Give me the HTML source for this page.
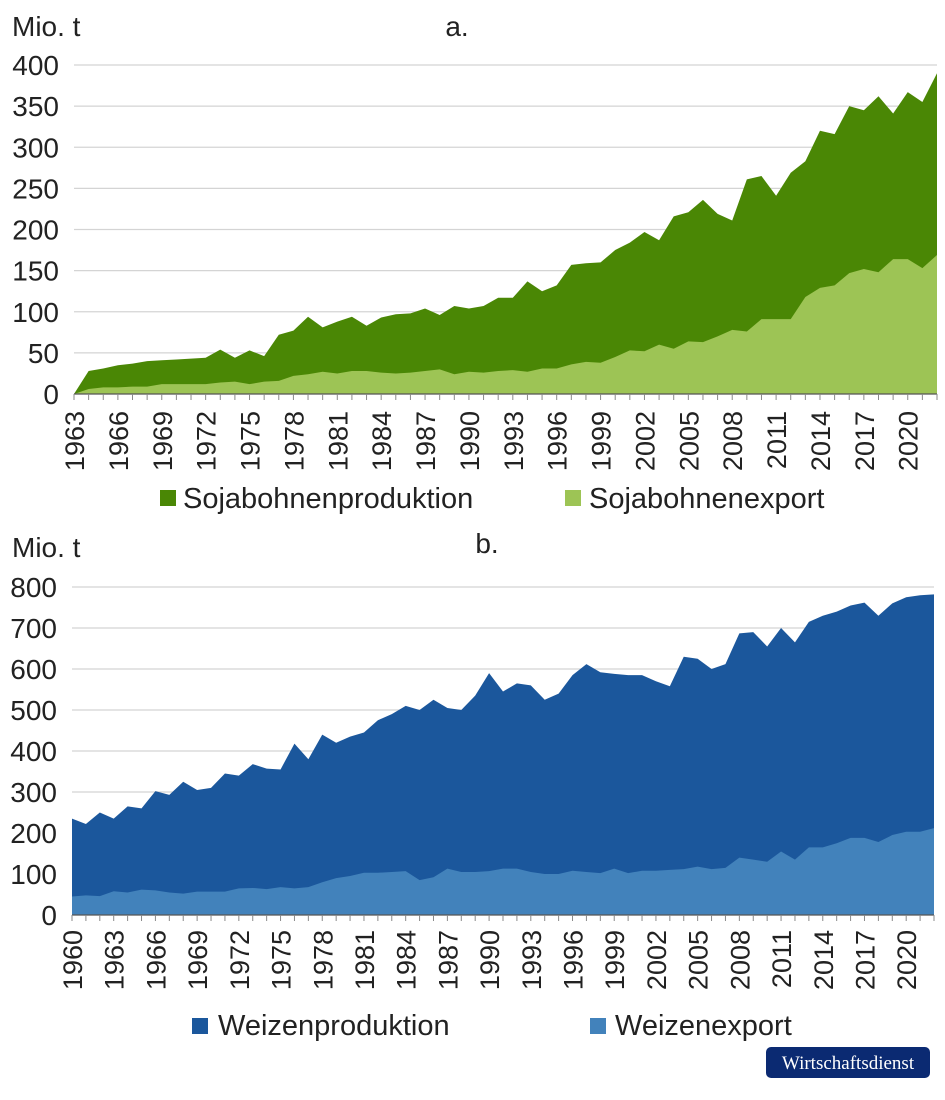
<!DOCTYPE html>
<html><head><meta charset="utf-8"><style>
body{margin:0;background:#fff;}
svg{display:block;font-family:"Liberation Sans",Arial,sans-serif;}
</style></head><body>
<svg id="s" width="945" height="1100" xmlns="http://www.w3.org/2000/svg">
<rect width="945" height="1100" fill="#fff"/>
</svg>
<script>
const s=document.getElementById('s');
let h='';
function chart(o){
  const {x0,x1,y0,yTop,max,step,start,n,series,cols,lo}=o;
  const dx=(x1-x0)/(n-1), sc=(y0-yTop)/max;
  for(let v=0;v<=max;v+=step){
    const y=y0-v*sc;
    if(v>0)h+=`<line x1="${x0}" x2="${x1}" y1="${y}" y2="${y}" stroke="#d4d4d4" stroke-width="1.2"/>`;
    h+=`<text x="${x0-15}" y="${y+10}" font-size="28" text-anchor="end" fill="#222">${v}</text>`;
  }
  series.forEach((d,k)=>{
    let p=`M${x0},${y0}`;
    d.forEach((v,i)=>p+=` L${(x0+i*dx).toFixed(2)},${(y0-v*sc).toFixed(2)}`);
    p+=` L${x1},${y0} Z`;
    h+=`<path d="${p}" fill="${cols[k]}"/>`;
  });
  h+=`<line x1="${x0}" x2="${x1}" y1="${y0}" y2="${y0}" stroke="#555" stroke-width="1.3"/>`;
  for(let i=0;i<n;i++){const x=x0+i*dx;h+=`<line x1="${x}" x2="${x}" y1="${y0}" y2="${y0+6}" stroke="#888" stroke-width="1"/>`;
    if(i%3==0)h+=`<text transform="translate(${x+10},${y0+lo}) rotate(-90)" font-size="27" text-anchor="end" fill="#222">${start+i}</text>`;}
}
const soyP=[0,28,31,35,37,40,41,42,43,44,54,44,53,46,72,77,94,81,88,94,83,93,97,98,104,96,107,104,107,117,117,137,125,132,157,159,160,175,184,197,187,216,221,236,219,211,261,265,241,269,283,320,316,350,345,362,341,367,355,390];
const soyE=[0,6,8,8,9,9,12,12,12,12,14,15,12,15,16,22,24,27,25,28,28,26,25,26,28,30,24,27,26,28,29,27,31,31,36,39,38,45,53,52,60,55,64,63,70,78,76,91,91,91,100,118,129,132,147,152,148,164,164,153,169];
soyE.splice(50,1);
chart({x0:74,x1:937,y0:394,yTop:65,max:400,step:50,start:1963,n:60,series:[soyP,soyE],cols:['#4a8705','#9dc455'],lo:17});
const wP=[235,222,250,235,265,260,302,293,325,305,310,345,340,368,357,355,418,380,440,420,435,445,475,490,510,500,525,505,500,535,590,545,565,560,525,540,585,612,592,588,585,585,570,558,630,625,600,612,687,690,655,700,665,715,730,740,755,762,730,760,775,780,782];
const wE=[45,48,46,58,55,62,60,55,52,57,57,57,65,66,63,68,65,68,80,90,95,103,103,105,107,85,92,113,105,105,107,113,113,105,100,100,108,105,102,113,102,108,108,110,112,118,112,115,140,135,130,155,135,165,165,175,188,188,178,195,203,203,212];
chart({x0:72,x1:934,y0:915,yTop:587,max:800,step:100,start:1960,n:63,series:[wP,wE],cols:['#1b579c','#4282bb'],lo:15});
h+=`<text x="12" y="36" font-size="28" fill="#222">Mio. t</text><text x="457" y="36" font-size="28" text-anchor="middle" fill="#222">a.</text>`;
h+=`<text x="12" y="557" font-size="28" fill="#222">Mio. t</text><text x="487" y="553" font-size="28" text-anchor="middle" fill="#222">b.</text>`;
h+=`<rect x="160" y="490" width="16" height="16" fill="#4a8705"/><text x="183" y="508" font-size="29" fill="#222">Sojabohnenproduktion</text>`;
h+=`<rect x="565" y="490" width="16" height="16" fill="#9dc455"/><text x="589" y="508" font-size="29" fill="#222">Sojabohnenexport</text>`;
h+=`<rect x="192" y="1018" width="16" height="16" fill="#1b579c"/><text x="218" y="1035" font-size="29" fill="#222">Weizenproduktion</text>`;
h+=`<rect x="590" y="1018" width="16" height="16" fill="#4282bb"/><text x="615" y="1035" font-size="29" fill="#222">Weizenexport</text>`;
h+=`<rect x="766" y="1047" width="164" height="31" rx="5" fill="#0b2a72"/><text x="848" y="1069" font-size="19" text-anchor="middle" fill="#fff" font-family="Liberation Serif,serif">Wirtschaftsdienst</text>`;
s.innerHTML+=h;
</script>
</body></html>
